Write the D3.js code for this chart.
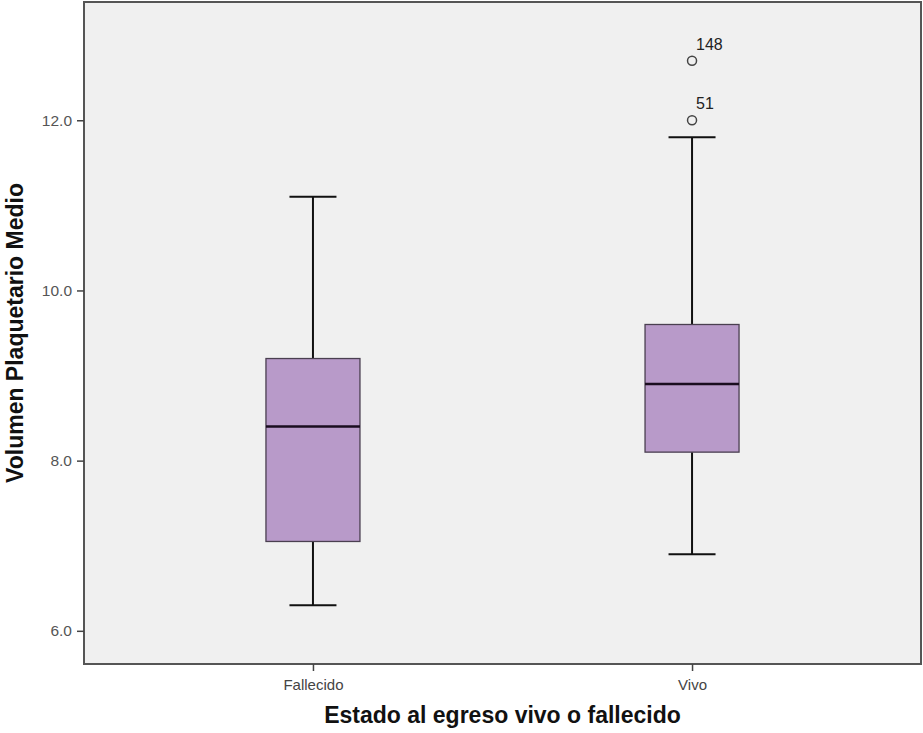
<!DOCTYPE html>
<html>
<head>
<meta charset="utf-8">
<script src="https://cdn.jsdelivr.net/npm/d3@7"></script>
<style>
  body { margin: 0; background: #fff; }
  text { font-family: Arial, "Liberation Sans", sans-serif; }
</style>
</head>
<body>
<svg id="chart" width="923" height="733"></svg>
<script>
// groups and box statistics
var groups = ["Fallecido", "Vivo"];
var whiskerLow = [6.3, 6.9];
var q1 = [7.05, 8.1];
var medians = [8.4, 8.9];
var q3 = [9.2, 9.6];
var whiskerHigh = [11.1, 11.8];
// outliers: group, value, case label
var outlierGroup = ["Vivo", "Vivo"];
var outlierValue = [12.0, 12.7];
var outlierLabel = ["51", "148"];
var yTicks = [6.0, 8.0, 10.0, 12.0];

var margin = {top: 2, right: 2, bottom: 69, left: 84};
var W = 923, H = 733;
var w = W - margin.left - margin.right;
var h = H - margin.top - margin.bottom;

var svg = d3.select("#chart");
var g = svg.append("g").attr("transform", "translate(" + margin.left + "," + margin.top + ")");

var x = d3.scalePoint().domain(groups).range([0, w]).padding(0.604);
var y = d3.scaleLinear().domain([5.61, 13.39]).range([h, 0]);

// plot background
g.append("rect")
  .attr("x", 0).attr("y", 0).attr("width", w).attr("height", h)
  .attr("fill", "#f0f0f0");

var boxW = 94, capW = 47;

var boxes = g.selectAll(".box").data(groups).enter().append("g")
  .attr("transform", function(d) { return "translate(" + x(d) + ",0)"; });

// whiskers
boxes.append("line")
  .attr("x1", 0).attr("x2", 0)
  .attr("y1", function(d, i) { return y(whiskerHigh[i]); })
  .attr("y2", function(d, i) { return y(q3[i]); })
  .attr("stroke", "#111").attr("stroke-width", 2);
boxes.append("line")
  .attr("x1", 0).attr("x2", 0)
  .attr("y1", function(d, i) { return y(q1[i]); })
  .attr("y2", function(d, i) { return y(whiskerLow[i]); })
  .attr("stroke", "#111").attr("stroke-width", 2);
// caps
[whiskerHigh, whiskerLow].forEach(function(arr) {
  boxes.append("line")
    .attr("x1", -capW / 2).attr("x2", capW / 2)
    .attr("y1", function(d, i) { return y(arr[i]); })
    .attr("y2", function(d, i) { return y(arr[i]); })
    .attr("stroke", "#111").attr("stroke-width", 2);
});
// box
boxes.append("rect")
  .attr("x", -boxW / 2).attr("width", boxW)
  .attr("y", function(d, i) { return y(q3[i]); })
  .attr("height", function(d, i) { return y(q1[i]) - y(q3[i]); })
  .attr("fill", "#b89ac9").attr("stroke", "#4a3f50").attr("stroke-width", 1.3);
// median
boxes.append("line")
  .attr("x1", -boxW / 2).attr("x2", boxW / 2)
  .attr("y1", function(d, i) { return y(medians[i]); })
  .attr("y2", function(d, i) { return y(medians[i]); })
  .attr("stroke", "#1a0d1f").attr("stroke-width", 2.5);

// outliers
outlierValue.forEach(function(v, i) {
  var cx = x(outlierGroup[i]);
  g.append("circle")
    .attr("cx", cx).attr("cy", y(v)).attr("r", 4.5)
    .attr("fill", "none").attr("stroke", "#444").attr("stroke-width", 1.5);
  g.append("text")
    .attr("x", cx + 4).attr("y", y(v) - 11)
    .attr("font-size", 16).attr("fill", "#222")
    .text(outlierLabel[i]);
});

// frame
g.append("rect")
  .attr("x", 0).attr("y", 0).attr("width", w).attr("height", h)
  .attr("fill", "none").attr("stroke", "#555").attr("stroke-width", 2);

// axes
var yaxis = d3.axisLeft(y).tickValues(yTicks).tickFormat(d3.format(".1f")).tickSize(7).tickSizeOuter(0);
var ya = g.append("g").call(yaxis);
ya.select(".domain").remove();
ya.selectAll("line").attr("stroke", "#444").attr("stroke-width", 1.5);
ya.selectAll("text").attr("font-size", 15.5).attr("fill", "#555").attr("x", -12);

var xaxis = d3.axisBottom(x).tickSize(7).tickSizeOuter(0);
var xa = g.append("g").attr("transform", "translate(0," + h + ")").call(xaxis);
xa.select(".domain").remove();
xa.selectAll("line").attr("stroke", "#444").attr("stroke-width", 1.5);
xa.selectAll("text").attr("font-size", 15).attr("fill", "#444").attr("y", 15);

// axis titles
svg.append("text")
  .attr("x", margin.left + w / 2).attr("y", 723)
  .attr("text-anchor", "middle").attr("font-size", 23).attr("font-weight", "bold").attr("fill", "#111")
  .text("Estado al egreso vivo o fallecido");

svg.append("text")
  .attr("transform", "translate(23," + 333 + ")rotate(-90)")
  .attr("text-anchor", "middle").attr("font-size", 23).attr("font-weight", "bold").attr("fill", "#111")
  .text("Volumen Plaquetario Medio");
</script>
</body>
</html>
